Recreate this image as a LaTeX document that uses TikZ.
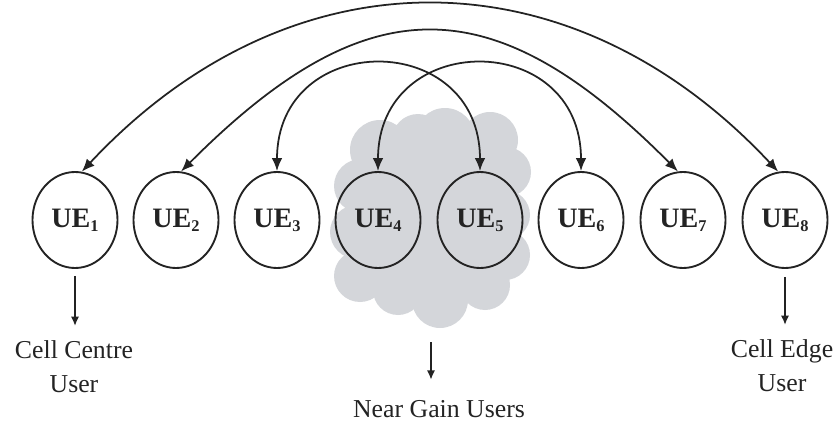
\documentclass[tikz,border=0pt]{standalone}
\usepackage{fontspec}
\setmainfont{Liberation Serif}
\usetikzlibrary{arrows.meta,shapes.geometric}
\definecolor{cloudgray}{RGB}{212,214,218}
\definecolor{inkgray}{RGB}{35,35,35}
\newcommand{\uesub}[1]{\raisebox{-0.3ex}{\fontsize{14}{14}\selectfont #1}}
\begin{document}
\begin{tikzpicture}[x=0.03cm,y=-0.03cm,
  ue/.style={ellipse, draw=inkgray, line width=1.6pt, minimum width=2.55cm,
    minimum height=2.88cm, inner sep=0pt, text=inkgray,
    font=\fontsize{24}{26}\selectfont\bfseries},
  link/.style={draw=inkgray, line width=1.5pt,
    {Latex[length=11pt,width=9pt]}-{Latex[length=11pt,width=9pt]}},
  down/.style={draw=inkgray, line width=1.3pt, -{Latex[length=8pt,width=7pt]}},
  lbl/.style={font=\fontsize{22}{29}\selectfont, text=inkgray, inner sep=0pt, anchor=base}]
\useasboundingbox (0,0) rectangle (837,423);

% cloud of bumps behind the near-gain pair
\begin{scope}[cloudgray]
  \fill (360,150) rectangle (500,290);
  \foreach \cx/\cy/\r in {380/150/30, 418/140/26, 445/138/30, 490/140/28,
      506/172/25, 505/215/25, 505/255/25, 485/285/25, 440/300/28,
      398/290/25, 360/276/26, 357/232/27, 361/186/27}
    \fill (\cx,\cy) circle[radius=\r];
\end{scope}

% user equipment
\foreach \i/\x in {1/75,2/176,3/277,4/378,5/480,6/581,7/683,8/785}
  \node[ue] (u\i) at (\x,220) {UE\uesub{\i}};

% pairings
\draw[link] (u1.82) .. controls (290,-51) and (570,-51) .. (u8.98);
\draw[link] (u2.84) .. controls (367,-15) and (493,-15) .. (u7.96);
\draw[link] (u3.north) .. controls (277,29) and (480,29) .. (u5.north);
\draw[link] (u4.north) .. controls (378,29) and (581,29) .. (u6.north);

% captions
\node[lbl] (cc1) at (74,358) {Cell Centre};
\node[lbl] (cc2) at (74,392) {User};
\node[lbl] (ce1) at (782,357) {Cell Edge};
\node[lbl] (ce2) at (782,391) {User};
\node[lbl] (ng) at (439,417) {Near Gain Users};
\coordinate (cloudbase) at (431,342);

\draw[down, shorten >=0.42cm] ([yshift=-0.21cm]u1.south) -- (u1.south |- cc1.north);
\draw[down, shorten >=0.42cm] ([yshift=-0.24cm]u8.south) -- (u8.south |- ce1.north);
\draw[down, shorten >=0.6cm] (cloudbase) -- (cloudbase |- ng.north);
\end{tikzpicture}
\end{document}
